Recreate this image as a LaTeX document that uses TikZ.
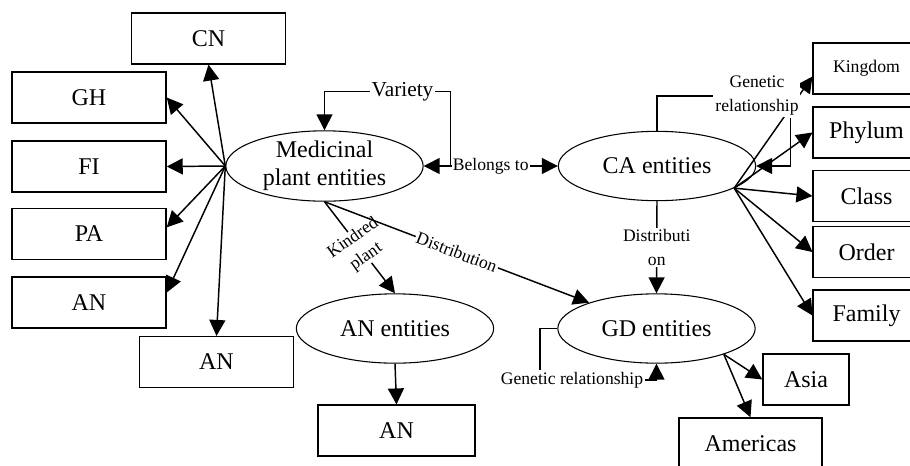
\documentclass[tikz,border=0pt]{standalone}
\usepackage{fontspec}
\setmainfont{Liberation Serif}
\usetikzlibrary{arrows.meta,shapes.geometric}

\begin{document}
\begin{tikzpicture}[x = .75pt, y = -.75pt, line width = 1.1pt,
    >={Triangle[length=12pt,width=12pt]},
    box/.style = {draw, rectangle, minimum width = 115.5pt, minimum height = 38pt, inner sep = 0pt, font = \fontsize{18}{21}\selectfont},
    rbox/.style = {box, minimum width = 80pt},
    ent/.style = {draw, ellipse, line width = .8pt, minimum width = 148pt, minimum height = 52pt, inner sep = 0pt, align = center, font = \fontsize{18}{21}\selectfont},
    lbl/.style = {fill = white, inner sep = 1pt, align = center, font = \fontsize{13.2}{18}\selectfont}]
    \useasboundingbox (0,0) rectangle (910,465);
    % entities
    \node[ent] (med) at (324.5,166) {Medicinal\\plant entities};
    \node[ent] (ca) at (657,166) {CA entities};
    \node[ent] (gd) at (656.5,328.5) {GD entities};
    \node[ent] (anent) at (395,328.5) {AN entities};
    % boxes round the medicinal plant
    \node[box] (cn) at (208.5,38.5) {CN};
    \node[box] (gh) at (89,97.5) {GH};
    \node[box] (fi) at (89,166.5) {FI};
    \node[box] (pa) at (89,234) {PA};
    \node[box] (anl) at (89,302.5) {AN};
    \node[box] (anm) at (216.5,362) {AN};
    \node[box, minimum width = 118pt] (anb) at (396.5,430.5) {AN};
    % taxonomy boxes
    \node[rbox, font = \fontsize{13.3}{15}\selectfont] (king) at (866.5,68.5) {Kingdom};
    \node[rbox] (phy) at (866.5,132.5) {Phylum};
    \node[rbox] (cls) at (866.5,196) {Class};
    \node[rbox] (ord) at (866.5,252) {Order};
    \node[rbox] (fam) at (866.5,315.5) {Family};
    % regions
    \node[box, minimum width = 64.5pt] (asia) at (806,379.5) {Asia};
    \node[box, minimum width = 107pt, minimum height = 39pt] (amer) at (750.5,444) {Americas};

    \coordinate (medhub) at (med.west);
    \coordinate (cahub) at (ca.-16);
    \coordinate (gdhub) at (gd.-21);

    \draw[->] (medhub) -- (cn.south);
    \draw[->] (medhub) -- (gh.east);
    \draw[->] (medhub) -- (fi.east);
    \draw[->] (medhub) -- ([yshift=5pt]pa.east);
    \draw[->] (medhub) -- ([yshift=7.5pt]anl.east);
    \draw[->] (medhub) -- (anm.north);

    \draw[->] ([xshift=20pt]med.east) |- node[lbl, pos=.69, font=\fontsize{16}{18}\selectfont] {Variety} ([yshift=29pt]med.north) -- (med.north);
    \draw[<->] (med.east) -- node[lbl] {Belongs to} (ca.west);
    \draw[->] (med.south) -- node[lbl, inner sep=0pt, rotate=35, font=\fontsize{13.2}{17}\selectfont] {Kindred\\plant} (anent.north);
    \draw[->] (med.south) -- node[lbl, sloped] {Distribution} (gd.159);
    \draw[->] (anent.south) -- (anb.north);

    \draw[->] (cahub) -- ([yshift=-6pt]king.west);
    \draw[->] (cahub) -- (phy.west);
    \draw[->] (cahub) -- (cls.west);
    \draw[->] (cahub) -- (ord.west);
    \draw[->] (cahub) -- (fam.west);
    \node[lbl] (cagen) at (757,96) {Genetic\\relationship};
    \draw (ca.north) |- (cagen.west);
    \draw[->] ([xshift=25pt]cagen.south) |- (ca.east);
    \draw[->] (ca.south) -- node[lbl] {Distributi\\on} (gd.north);

    \node[lbl] (gdgen) at (572,380) {Genetic relationship};
    \draw (gd.west) -| ([xshift=-24pt]gdgen.north);
    \draw[->] (gdgen.east) -| (gd.south);
    \draw[->] (gdhub) -- (asia.west);
    \draw[->] (gdhub) -- (amer.north);
\end{tikzpicture}
\end{document}
